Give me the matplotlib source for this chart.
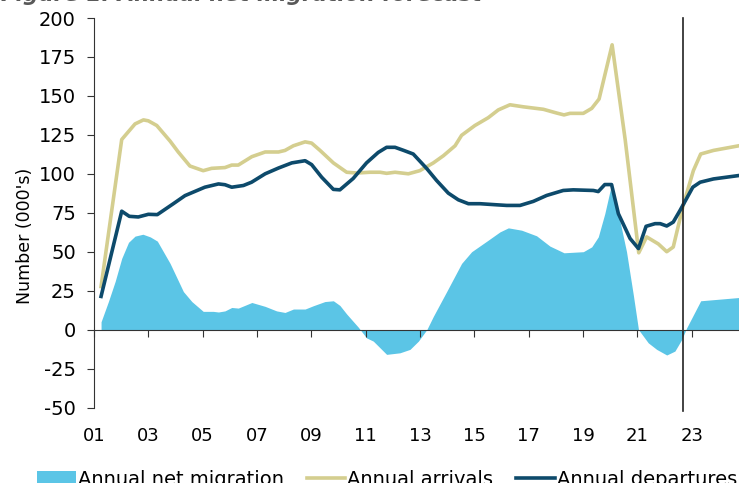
import numpy as np
import matplotlib.pyplot as plt

plt.rcParams["axes.unicode_minus"] = False

# annual arrivals (000's)
arr_x = [2001.26, 2002.02, 2002.51, 2002.82, 2003.0, 2003.31, 2003.8, 2004.1, 2004.53,
         2005.02, 2005.33, 2005.82, 2006.07, 2006.31, 2006.81, 2007.3, 2007.79, 2008.03,
         2008.34, 2008.77, 2009.01, 2009.32, 2009.81, 2010.3, 2010.67, 2011.16, 2011.53,
         2011.77, 2012.08, 2012.57, 2012.99, 2013.49, 2013.86, 2014.29, 2014.53, 2015.02,
         2015.51, 2015.88, 2016.31, 2016.8, 2017.54, 2018.03, 2018.3, 2018.52, 2019.01,
         2019.32, 2019.59, 2020.07, 2020.55, 2021.05, 2021.34, 2021.77, 2022.08, 2022.32,
         2022.69, 2023.06, 2023.33, 2023.8, 2024.74]
arr_y = [27.6, 122, 132, 134.6, 134, 131, 121, 114, 105,
         102, 103.5, 104, 105.6, 105.6, 111, 114, 114, 115,
         118, 120.5, 119.7, 115, 107, 101, 100.5, 101, 101,
         100.3, 101, 100, 102, 107, 111.6, 118, 124.7, 131,
         136, 141, 144.3, 143, 141.4, 139, 137.8, 138.8, 138.8,
         142, 148, 182.8, 122, 49.3, 59.5, 55, 50, 53,
         80, 102, 112.7, 115, 118]

# annual departures (000's)
dep_x = [2001.26, 2002.02, 2002.3, 2002.63, 2003.0, 2003.33, 2003.92, 2004.35, 2005.08,
         2005.58, 2005.82, 2006.07, 2006.5, 2006.8, 2007.3, 2007.79, 2008.28, 2008.77,
         2009.01, 2009.38, 2009.81, 2010.05, 2010.54, 2011.03, 2011.46, 2011.77, 2012.08,
         2012.4, 2012.75, 2013.24, 2013.61, 2014.04, 2014.41, 2014.78, 2015.21, 2015.82,
         2016.19, 2016.68, 2017.17, 2017.66, 2018.27, 2018.64, 2019.38, 2019.56, 2019.8,
         2020.05, 2020.3, 2020.73, 2021.04, 2021.32, 2021.65, 2021.84, 2022.08, 2022.32,
         2022.57, 2023.04, 2023.31, 2023.8, 2024.74]
dep_y = [21.3, 76, 72.7, 72.3, 74, 73.8, 80.8, 86, 91.4,
         93.5, 93, 91.4, 92.5, 94.6, 100, 103.7, 107, 108.4,
         105.9, 97.8, 90, 89.7, 97, 107, 113.7, 117, 117,
         115, 112.7, 103.5, 95.7, 87.6, 83.3, 80.8, 80.8, 80.1,
         79.7, 79.7, 82.3, 86.1, 89.3, 89.7, 89.3, 88.6, 93.1,
         93.1, 74.4, 58.5, 52, 66.3, 68, 68, 66.5, 69,
         76.5, 91.4, 94.6, 96.7, 98.9]

# annual net migration (000's)
net_x = [2001.26, 2001.53, 2001.78, 2002.02, 2002.27, 2002.51, 2002.8, 2003.07, 2003.33,
         2003.8, 2004.29, 2004.6, 2005.02, 2005.39, 2005.58, 2005.82, 2006.07, 2006.31,
         2006.81, 2007.3, 2007.72, 2008.03, 2008.34, 2008.77, 2009.07, 2009.5, 2009.81,
         2010.05, 2010.3, 2010.73, 2011.03, 2011.28, 2011.77, 2012.26, 2012.63, 2012.94,
         2013.25, 2013.49, 2013.98, 2014.53, 2014.9, 2015.51, 2015.94, 2016.25, 2016.74,
         2017.29, 2017.78, 2018.3, 2019.01, 2019.32, 2019.56, 2019.8, 2020.01, 2020.3,
         2020.6, 2020.85, 2021.04, 2021.4, 2021.71, 2022.08, 2022.38, 2022.63, 2022.81,
         2023.33, 2024.74]
net_y = [5, 18, 31, 45.7, 56, 60, 61.2, 59.5, 56.8,
         42.5, 24.4, 18, 11.7, 11.7, 11.3, 12, 14.2, 13.8,
         17.4, 14.9, 12, 11, 13.2, 13.2, 15.3, 18, 18.5,
         15.5, 10, 1.5, -5.3, -7.4, -15.9, -14.9, -12.7, -7.4,
         0, 8.5, 24.4, 42.5, 50, 57.4, 62.7, 65.3, 63.8,
         60.2, 53.6, 49.3, 50, 53.1, 59.5, 74.4, 90.4, 74.4,
         50, 22.3, 0, -8.5, -12.7, -16.3, -13.8, -6.4, 1,
         18.5, 20.6]

forecast_start = 2022.67
xtick_years = list(range(2001, 2024, 2))
xtick_labels = ["%02d" % (y % 100) for y in xtick_years]

fig = plt.figure(figsize=(7.39, 4.83), dpi=100)
ax = fig.add_axes([94 / 739, 1 - 407.5 / 483, 645 / 739, 389.5 / 483])

ax.fill_between(net_x, net_y, 0, color="#5BC5E6", linewidth=0, label="Annual net migration")
ax.plot(arr_x, arr_y, color="#D4CE8F", lw=2.6, label="Annual arrivals")
ax.plot(dep_x, dep_y, color="#0D4A6B", lw=2.6, label="Annual departures")
ax.plot([forecast_start, forecast_start], [200, -52.5], color="#222222", lw=1.2, clip_on=False)

ax.set_xlim(2001, 2024.74)
ax.set_ylim(-50, 200)
ax.set_yticks(np.arange(-50, 201, 25))
ax.set_xticks(xtick_years)
ax.set_xticklabels(xtick_labels)

for s in ["top", "right"]:
    ax.spines[s].set_visible(False)
ax.spines["bottom"].set_position(("data", 0))
ax.spines["bottom"].set_color("#333333")
ax.spines["left"].set_color("#333333")
ax.tick_params(axis="y", direction="out", length=5, color="#333333", labelsize=14, pad=8)
ax.tick_params(axis="x", direction="out", length=5, color="#333333", labelsize=13, pad=65)

ax.set_ylabel("Number (000's)", fontsize=12.5)
ax.yaxis.set_label_coords(-0.093, 0.44)

fig.text(0.002, 1 - 1 / 483, "Figure 1: Annual net migration forecast", fontsize=15.5,
         fontweight="bold", style="italic", color="#595959", va="baseline")

fig.legend(loc="lower left", bbox_to_anchor=(0.04, -0.028), ncol=3, frameon=False,
           fontsize=14, handlelength=2.0, handletextpad=0.1, columnspacing=1.15,
           borderaxespad=0)

fig.savefig("out.png", dpi=100)
